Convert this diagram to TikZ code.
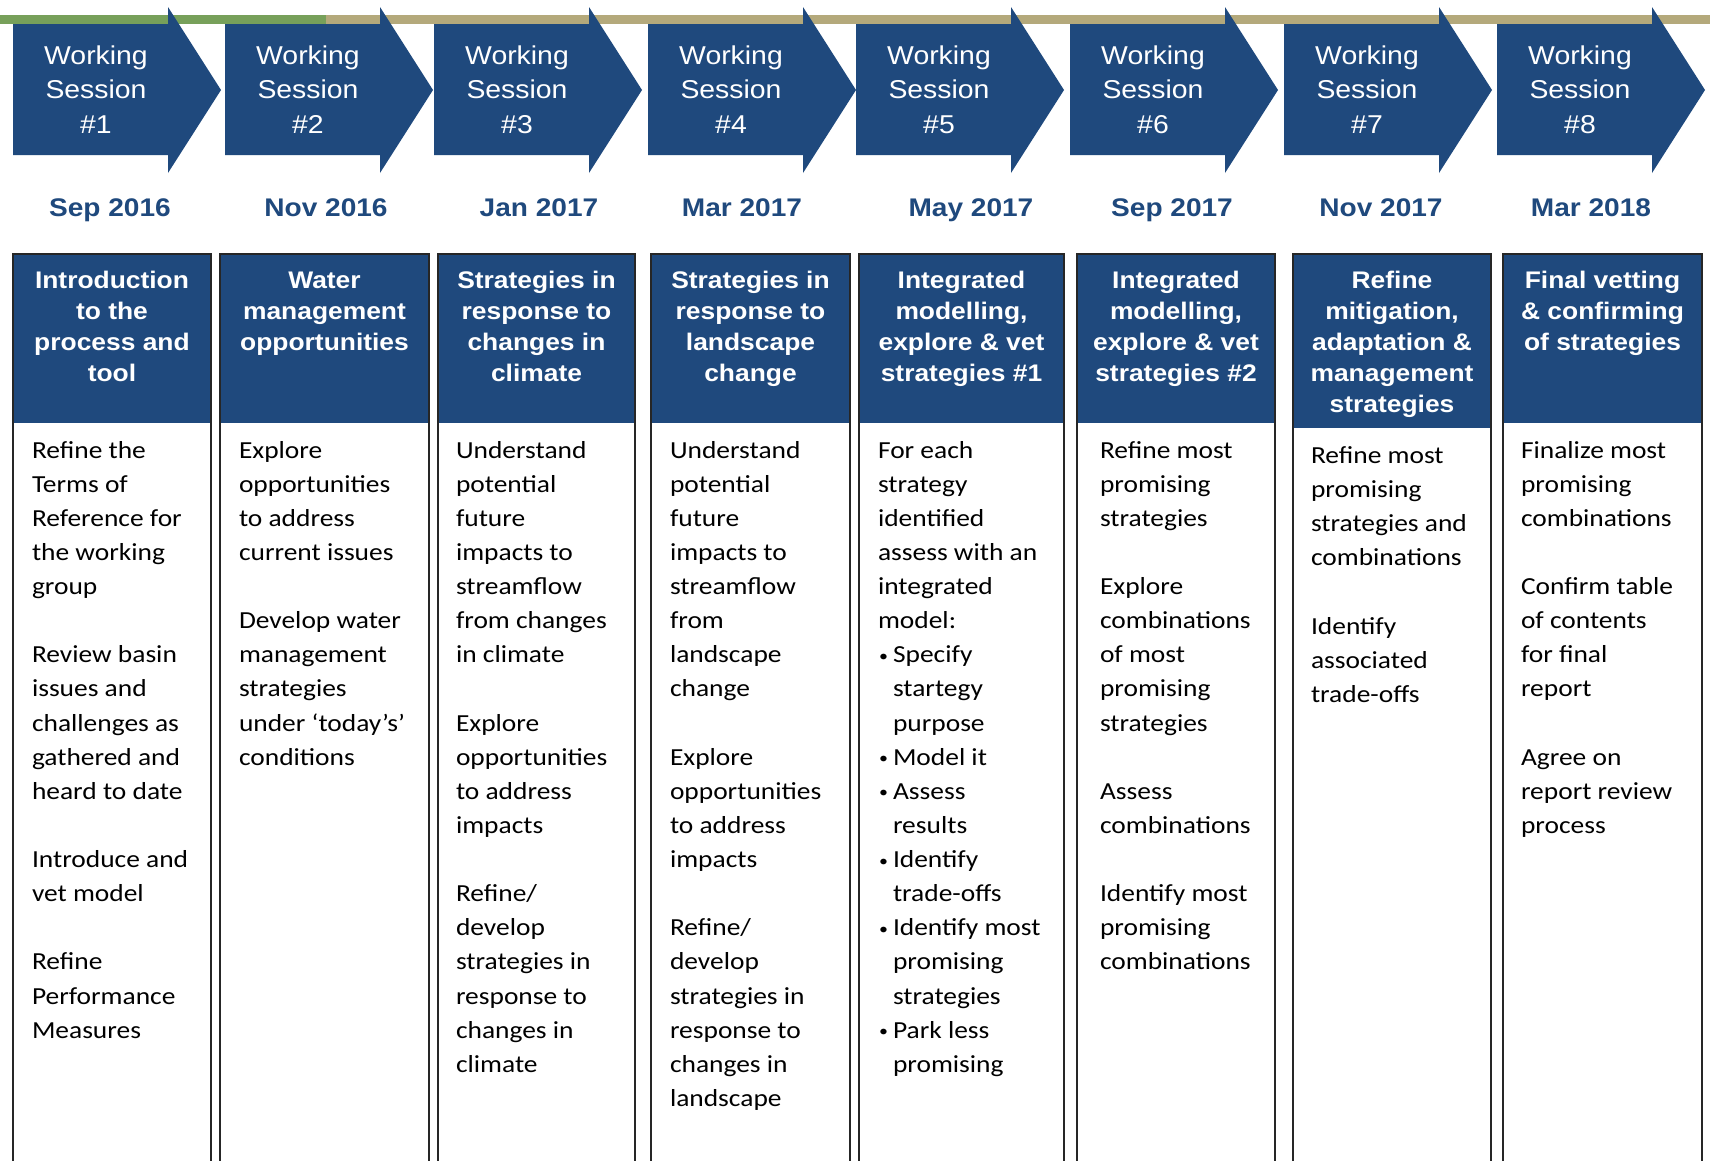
\documentclass[tikz,border=0pt]{standalone}
\usepackage{fontspec}
\newfontfamily\arialF[FakeStretch=1.1]{Liberation Sans}
\newfontfamily\calF[FakeStretch=1.12]{Carlito}

\definecolor{wsblue}{HTML}{1F497D}
\definecolor{barGreen}{HTML}{77A05A}
\definecolor{barTan}{HTML}{B4A97B}

\newcommand\arrowfont{\arialF\fontsize{25.8}{34.5}\selectfont}
\newcommand\datefont{\arialF\bfseries\fontsize{25.5}{30}\selectfont}
\newcommand\hdrfont{\arialF\bfseries\fontsize{24}{31.2}\selectfont}
\newcommand\bodyfont{\calF\fontsize{24.5}{34.13}\selectfont}
\newcommand\bul{\makebox[15pt][l]{\hspace{1pt}\raisebox{1.5pt}{\fontsize{16}{16}\selectfont •}}}
\newcommand\ind{\hspace*{15pt}}
\newcommand\gap{\\[34.13pt]}

% one session column: left, right, header bottom, name, header text,
% body offset, first body baseline, body text
\newcommand\wscolumn[8]{%
  \fill[wsblue] (#1,254) rectangle (#2,#3);
  \draw[colborder] (#1,254) rectangle (#2,1175);
  \node[celltext, anchor=base, text=white] (h#4) at ({(#1+#2)/2},288)
    {\parbox[t]{200pt}{\centering\hdrfont #5}};
  \node[celltext, anchor=base west] (b#4) at ({#1+#6},#7)
    {\parbox[t]{190pt}{\raggedright\bodyfont #8}};
}

\begin{document}
\begin{tikzpicture}[x=1pt,y=-1pt,
  celltext/.style={inner sep=0pt, outer sep=0pt},
  colborder/.style={draw=black!85, line width=2.2pt},
  sessionarrow/.style={fill=wsblue}]
\useasboundingbox (0,0) rectangle (1710,1160);
\fill[white] (0,0) rectangle (1710,1160);

% timeline bar
\fill[barGreen] (0,15) rectangle (326,24);
\fill[barTan] (326,15) rectangle (1710,24);

% session arrows
\foreach \x/\n in {13/1,225/2,434/3,648/4,856/5,1070/6,1284/7,1497/8}{
  \fill[sessionarrow] (\x,24) -- (\x+155,24) -- (\x+155,7) -- (\x+208,90)
    -- (\x+155,173) -- (\x+155,155) -- (\x,155) -- cycle;
  \node[celltext, anchor=base, text=white] (ws\n) at (\x+83,64)
    {\parbox[t]{150pt}{\centering\arrowfont Working\\Session\\\#\n}};
}

% dates
\foreach \cx/\d [count=\i] in {110/Sep 2016,326/Nov 2016,539/Jan 2017,742/Mar 2017,
    971/May 2017,1172/Sep 2017,1381/Nov 2017,1591/Mar 2018}{
  \node[celltext, anchor=base, text=wsblue] (date\i) at (\cx,216) {\datefont\d};
}

% columns
\wscolumn{13}{211}{423}{1}{Introduction\\to the\\process and\\tool}{19}{458}
  {Refine the\\Terms of\\Reference for\\the working\\group\gap
   Review basin\\issues and\\challenges as\\gathered and\\heard to date\gap
   Introduce and\\vet model\gap
   Refine\\Performance\\Measures}

\wscolumn{220}{429}{423}{2}{Water\\management\\opportunities}{19}{458}
  {Explore\\opportunities\\to address\\current issues\gap
   Develop water\\management\\strategies\\under ‘today’s’\\conditions}

\wscolumn{438}{635}{423}{3}{Strategies in\\response to\\changes in\\climate}{18}{458}
  {Understand\\potential\\future\\impacts to\\streamflow\\from changes\\in climate\gap
   Explore\\opportunities\\to address\\impacts\gap
   Refine/\\develop\\strategies in\\response to\\changes in\\climate}

\wscolumn{651}{850}{423}{4}{Strategies in\\response to\\landscape\\change}{19}{458}
  {Understand\\potential\\future\\impacts to\\streamflow\\from\\landscape\\change\gap
   Explore\\opportunities\\to address\\impacts\gap
   Refine/\\develop\\strategies in\\response to\\changes in\\landscape}

\wscolumn{859}{1064}{423}{5}{Integrated\\modelling,\\explore \& vet\\strategies \#1}{19}{458}
  {For each\\strategy\\identified\\assess with an\\integrated\\model:\\
   \bul Specify\\\ind startegy\\\ind purpose\\
   \bul Model it\\
   \bul Assess\\\ind results\\
   \bul Identify\\\ind trade-offs\\
   \bul Identify most\\\ind promising\\\ind strategies\\
   \bul Park less\\\ind promising}

\wscolumn{1077}{1275}{423}{6}{Integrated\\modelling,\\explore \& vet\\strategies \#2}{23}{458}
  {Refine most\\promising\\strategies\gap
   Explore\\combinations\\of most\\promising\\strategies\gap
   Assess\\combinations\gap
   Identify most\\promising\\combinations}

\wscolumn{1293}{1491}{428}{7}{Refine\\mitigation,\\adaptation \&\\management\\strategies}{18}{463.5}
  {Refine most\\promising\\strategies and\\combinations\gap
   Identify\\associated\\trade-offs}

\wscolumn{1503}{1702}{423}{8}{Final vetting\\\& confirming\\of strategies}{18}{458}
  {Finalize most\\promising\\combinations\gap
   Confirm table\\of contents\\for final\\report\gap
   Agree on\\report review\\process}

\end{tikzpicture}
\end{document}
